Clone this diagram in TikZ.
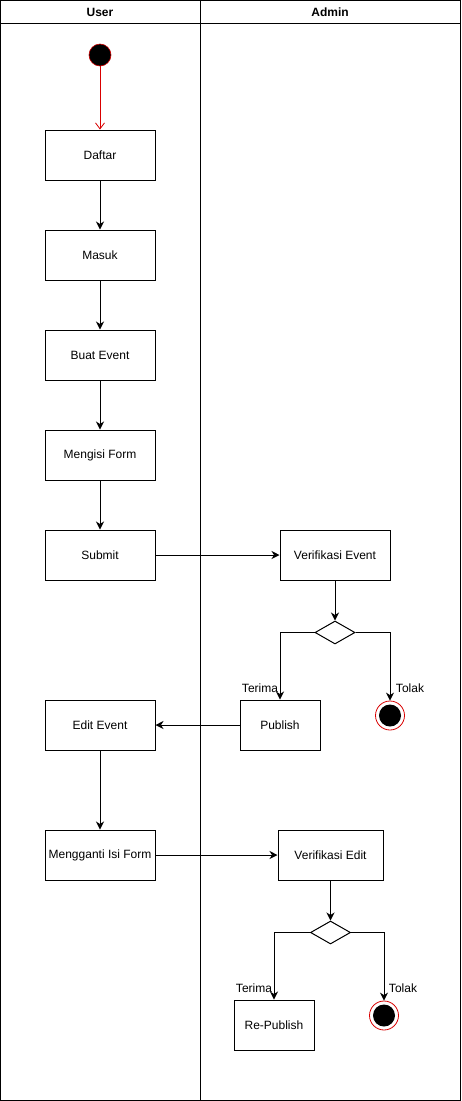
\documentclass[tikz,border=0pt]{standalone}
\usepackage{fontspec}
\setmainfont{Liberation Sans}
\usetikzlibrary{arrows.meta,shapes.geometric}
\begin{document}
\begin{tikzpicture}[x=1pt,y=-1pt,line width=1pt,
  act/.style={draw,rectangle,minimum width=110pt,minimum height=50pt,inner sep=0pt,font=\fontsize{12}{14}\selectfont},
  dec/.style={draw,diamond,aspect=1.7,minimum width=40pt,minimum height=23pt,inner sep=0pt},
  flow/.style={-{Stealth[length=8pt,width=8pt,inset=2.5pt]}},
  lbl/.style={font=\fontsize{12}{14}\selectfont,inner sep=0pt},
  hdr/.style={font=\bfseries\fontsize{12}{14}\selectfont,inner sep=0pt},
  startnode/.style={circle,fill=black,draw=red!80!black,line width=0.6pt,minimum size=22pt,inner sep=0pt},
  endnode/.style={circle,draw=red!85!black,line width=0.8pt,fill=white,minimum size=29pt,inner sep=0pt,
    path picture={\fill[black] (path picture bounding box.center) circle (11pt);}}
]
\useasboundingbox (0,0) rectangle (461,1101);
\fill[white] (0,0) rectangle (461,1101);
% swimlanes
\draw (0.5,0.5) rectangle (460.5,1100.5);
\draw (0.5,23) -- (460.5,23);
\draw (200.5,0.5) -- (200.5,1100.5);
\node[hdr] (huser) at (100,12) {User};
\node[hdr] (hadmin) at (330,12) {Admin};
% nodes
\node[startnode] (start) at (100,55) {};
\node[act] (daftar) at (100,155) {Daftar};
\node[act] (masuk) at (100,255) {Masuk};
\node[act] (buat) at (100,355) {Buat Event};
\node[act] (isi) at (100,455) {Mengisi Form};
\node[act] (submit) at (100,555) {Submit};
\node[act] (verev) at (335,555) {Verifikasi Event};
\node[dec] (d1) at (335,632.5) {};
\node[act,minimum width=80pt] (publish) at (280,725) {Publish};
\node[endnode] (end1) at (390,715.5) {};
\node[act] (edit) at (100,725) {Edit Event};
\node[act] (ganti) at (100,855) {Mengganti Isi Form};
\node[act,minimum width=105pt] (veredit) at (330.5,855) {Verifikasi Edit};
\node[dec] (d2) at (330.5,932.5) {};
\node[act,minimum width=80pt] (repub) at (274,1025) {Re-Publish};
\node[endnode] (end2) at (384,1015.5) {};
% labels
\node[lbl] (t1) at (260,688) {Terima};
\node[lbl] (k1) at (410,688) {Tolak};
\node[lbl] (t2) at (254,988) {Terima};
\node[lbl] (k2) at (403,988) {Tolak};
% connectors
\draw[red!85!black,-{Straight Barb[length=6pt,width=9pt]},line width=0.8pt] (start) -- (daftar);
\draw[flow] (daftar) -- (masuk);
\draw[flow] (masuk) -- (buat);
\draw[flow] (buat) -- (isi);
\draw[flow] (isi) -- (submit);
\draw[flow] (submit) -- (verev);
\draw[flow] (verev) -- (d1);
\draw[flow] (d1.west) -| (publish.north);
\draw[flow] (d1.east) -| (end1.north);
\draw[flow] (publish) -- (edit);
\draw[flow] (edit) -- (ganti);
\draw[flow] (ganti) -- (veredit);
\draw[flow] (veredit) -- (d2);
\draw[flow] (d2.west) -| (repub.north);
\draw[flow] (d2.east) -| (end2.north);
\end{tikzpicture}
\end{document}
